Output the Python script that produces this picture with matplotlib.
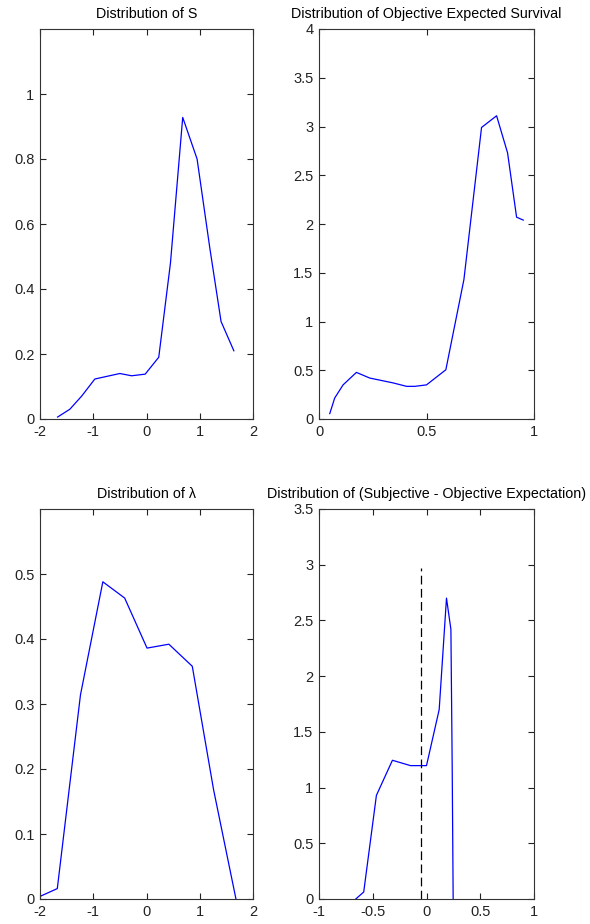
import numpy as np
import matplotlib.pyplot as plt

# valores
s_x = [-1.67, -1.44, -1.22, -0.97, -0.75, -0.50, -0.28, -0.025, 0.23, 0.45, 0.68, 0.95, 1.19, 1.40, 1.64]
s_y = [0.006, 0.03, 0.07, 0.123, 0.131, 0.14, 0.133, 0.138, 0.19, 0.48, 0.928, 0.80, 0.525, 0.30, 0.21]

surv_x = [0.05, 0.073, 0.112, 0.174, 0.236, 0.345, 0.407, 0.446, 0.50, 0.59, 0.674, 0.756, 0.826, 0.877, 0.919, 0.95]
surv_y = [0.055, 0.215, 0.35, 0.478, 0.42, 0.37, 0.335, 0.335, 0.35, 0.505, 1.43, 2.99, 3.11, 2.73, 2.07, 2.04]

lam_x = [-2.0, -1.675, -1.24, -0.82, -0.41, 0.01, 0.42, 0.86, 1.26, 1.68]
lam_y = [0.004, 0.016, 0.314, 0.488, 0.463, 0.386, 0.392, 0.358, 0.168, 0.0]

diff_x = [-0.658, -0.584, -0.466, -0.317, -0.149, 0.0, 0.118, 0.186, 0.227, 0.239, 0.248]
diff_y = [0.0, 0.063, 0.93, 1.245, 1.197, 1.197, 1.70, 2.70, 2.42, 1.19, 0.0]

media_diff = -0.053
altura_media = 2.97

plt.rcParams['font.family'] = ['Liberation Sans', 'DejaVu Sans']
plt.rcParams['font.size'] = 10

fig = plt.figure(figsize=(5.9, 9.24), dpi=100)

# posições dos eixos em fração da figura
esq1, esq2 = 40 / 590, 319 / 590
larg1, larg2 = 213 / 590, 215 / 590
alt = 390 / 924
base_sup = (924 - 419) / 924
base_inf = (924 - 899) / 924
tam_titulo = 10.3

def estilo_matlab(ax):
    ax.tick_params(direction='in', top=True, right=True, length=4, width=0.8,
                   pad=4, labelsize=10.5, colors='#222222')
    for sp in ax.spines.values():
        sp.set_linewidth(0.8)
        sp.set_color('#333333')

ax1 = fig.add_axes([esq1, base_sup, larg1, alt])
ax1.plot(s_x, s_y, color='#0000ff', linewidth=0.9)
ax1.set_xlim(-2, 2)
ax1.set_ylim(0, 1.2)
ax1.set_xticks([-2, -1, 0, 1, 2])
ax1.set_xticklabels(['-2', '-1', '0', '1', '2'])
ax1.set_yticks([0, 0.2, 0.4, 0.6, 0.8, 1])
ax1.set_yticklabels(['0', '0.2', '0.4', '0.6', '0.8', '1'])
ax1.set_title('Distribution of S', fontsize=tam_titulo, pad=8)
estilo_matlab(ax1)

ax2 = fig.add_axes([esq2, base_sup, larg2, alt])
ax2.plot(surv_x, surv_y, color='#0000ff', linewidth=0.9)
ax2.set_xlim(0, 1)
ax2.set_ylim(0, 4)
ax2.set_xticks([0, 0.5, 1])
ax2.set_xticklabels(['0', '0.5', '1'])
ax2.set_yticks([0, 0.5, 1, 1.5, 2, 2.5, 3, 3.5, 4])
ax2.set_yticklabels(['0', '0.5', '1', '1.5', '2', '2.5', '3', '3.5', '4'])
ax2.set_title('Distribution of Objective Expected Survival', fontsize=tam_titulo, pad=8)
estilo_matlab(ax2)

ax3 = fig.add_axes([esq1, base_inf, larg1, alt])
ax3.plot(lam_x, lam_y, color='#0000ff', linewidth=0.9)
ax3.set_xlim(-2, 2)
ax3.set_ylim(0, 0.6)
ax3.set_xticks([-2, -1, 0, 1, 2])
ax3.set_xticklabels(['-2', '-1', '0', '1', '2'])
ax3.set_yticks([0, 0.1, 0.2, 0.3, 0.4, 0.5])
ax3.set_yticklabels(['0', '0.1', '0.2', '0.3', '0.4', '0.5'])
ax3.set_title('Distribution of \u03bb', fontsize=tam_titulo, pad=8)
estilo_matlab(ax3)

ax4 = fig.add_axes([esq2, base_inf, larg2, alt])
ax4.plot(diff_x, diff_y, color='#0000ff', linewidth=0.9)
ax4.plot([media_diff, media_diff], [0, altura_media], color='black',
         linestyle=(0, (7, 3.5)), linewidth=0.9)
ax4.set_xlim(-1, 1)
ax4.set_ylim(0, 3.5)
ax4.set_xticks([-1, -0.5, 0, 0.5, 1])
ax4.set_xticklabels(['-1', '-0.5', '0', '0.5', '1'])
ax4.set_yticks([0, 0.5, 1, 1.5, 2, 2.5, 3, 3.5])
ax4.set_yticklabels(['0', '0.5', '1', '1.5', '2', '2.5', '3', '3.5'])
ax4.set_title('Distribution of (Subjective - Objective Expectation)', fontsize=tam_titulo, pad=8)
estilo_matlab(ax4)

fig.savefig('out.png', dpi=100)
